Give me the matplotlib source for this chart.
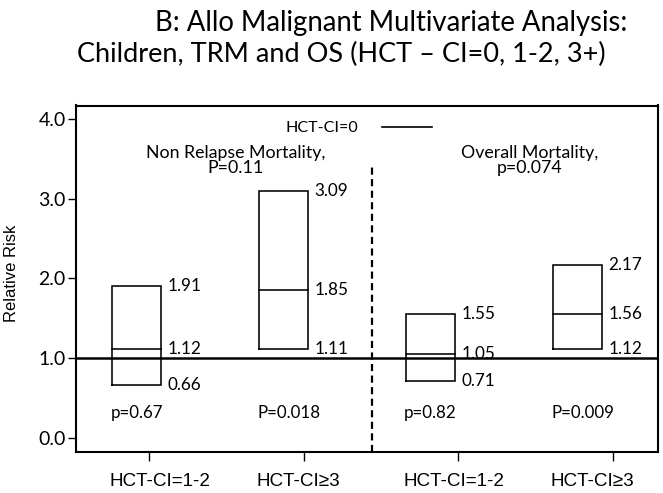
import matplotlib
matplotlib.use("Agg")
import matplotlib.pyplot as plt
import matplotlib.transforms as mtransforms
import numpy as np

# ---- data ----
categories = ["HCT-CI=1-2", "HCT-CI\u22653", "HCT-CI=1-2", "HCT-CI\u22653"]
lower = [0.66, 1.11, 0.71, 1.12]
estimate = [1.12, 1.85, 1.05, 1.56]
upper = [1.91, 3.09, 1.55, 2.17]
p_values = ["p=0.67", "P=0.018", "p=0.82", "P=0.009"]
yticks = [0.0, 1.0, 2.0, 3.0, 4.0]
ytick_labels = ["0.0", "1.0", "2.0", "3.0", "4.0"]
panel_names = ["Non Relapse Mortality,", "Overall Mortality,"]
panel_p = ["P=0.11", "p=0.074"]
reference_value = 1.0
reference_label = "HCT-CI=0"
title_line1 = "B: Allo Malignant Multivariate Analysis:"
title_line2 = "Children, TRM and OS (HCT \u2013 CI=0, 1-2, 3+)"
ylabel = "Relative Risk"

CAL = ["Lato", "DejaVu Sans"]
ARI = ["Liberation Sans", "DejaVu Sans"]

W, H = 663, 493
fig = plt.figure(figsize=(W / 100, H / 100), dpi=100)
ax = fig.add_axes([76 / W, (H - 451.7) / H, (658 - 76) / W, (451.7 - 105.5) / H])

ax.set_xlim(0.528, 4.291)
ax.set_ylim(-0.172, 4.167)

ticks = np.arange(1, len(categories) + 1)
box_x = ticks - 0.08 - 0.05 * np.arange(len(categories))
half = 0.157
lw_box = 1.15

for i in range(len(categories)):
    x0, x1 = box_x[i] - half, box_x[i] + half
    ax.fill_between([x0, x1], lower[i], upper[i], facecolor="white", edgecolor="none", zorder=2)
    ax.plot([x0, x1, x1, x0, x0], [lower[i], lower[i], upper[i], upper[i], lower[i]],
            color="black", lw=lw_box, zorder=3, solid_joinstyle="miter")
    ax.plot([x0, x1], [estimate[i], estimate[i]], color="black", lw=lw_box, zorder=3)
    for v in (lower[i], estimate[i], upper[i]):
        ax.text(x1 + 0.042, v, f"{v:.2f}", family=CAL, fontsize=12.3,
                ha="left", va="center", zorder=1)
    ax.text(x0 - 0.013, 0.31, p_values[i], family=CAL, fontsize=12.2,
            ha="left", va="center")

# reference line
ax.axhline(reference_value, color="black", lw=1.8, zorder=4)

# divider
ax.plot([2.44, 2.44], [-0.172, 3.40], color="black", lw=1.6, ls=(0, (3.2, 2)), zorder=1)

# legend-like key
ax.text(2.351, 3.885, reference_label, family=CAL, fontsize=11.6, ha="right", va="center")
ax.plot([2.506, 2.830], [3.90, 3.90], color="black", lw=1.2)

# panel titles
for cx, name, p in zip([1.562, 3.463], panel_names, panel_p):
    ax.text(cx, 3.505, name, family=CAL, fontsize=12.8, ha="center", va="baseline")
    ax.text(cx, 3.317, p, family=CAL, fontsize=12.8, ha="center", va="baseline")

# axes styling
for s in ax.spines.values():
    s.set_linewidth(1.5)
ax.set_yticks(yticks)
ax.set_yticklabels(ytick_labels, family=CAL, fontsize=14)
ax.tick_params(axis="y", direction="out", length=5.5, width=1.0, pad=2)
ax.set_xticks(ticks)
ax.set_xticklabels([])
ax.tick_params(axis="x", direction="out", length=6.5, width=1.0)

trans = mtransforms.blended_transform_factory(ax.transData, ax.transAxes)
for i, c in enumerate(categories):
    ax.text(box_x[i] - half - 0.02, -0.0867, c, family=ARI, fontsize=13.6,
            ha="left", va="center", transform=trans)

fig.text(12 / W, 1 - 273.5 / H, ylabel, family=ARI, fontsize=12, rotation=90,
         ha="center", va="center")

fig.text(391 / W, 1 - 31 / H, title_line1, family=CAL, fontsize=19.8, ha="center", va="baseline")
fig.text(341 / W, 1 - 62 / H, title_line2, family=CAL, fontsize=19.5, ha="center", va="baseline")

fig.savefig("out.png", dpi=100)
